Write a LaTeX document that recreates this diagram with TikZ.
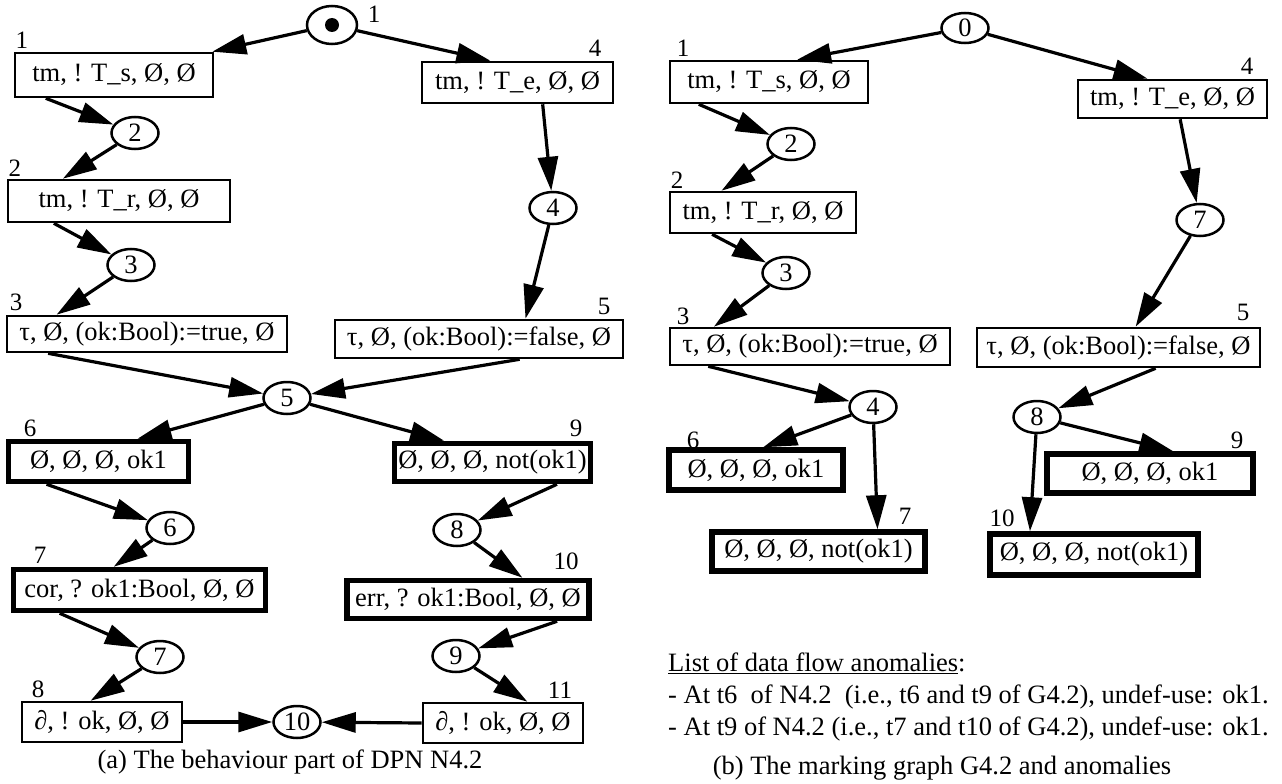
\documentclass[tikz,border=0pt]{standalone}
\usepackage{fontspec}
\setmainfont{Liberation Serif}
\usetikzlibrary{arrows.meta,calc,shapes.geometric}
\begin{document}
\begin{tikzpicture}[x=1pt,y=-1pt,
  every node/.style={font=\fontsize{26.5}{30}\selectfont},
  trans/.style={draw,line width=2.6pt,inner sep=0pt,rectangle},
  heavy/.style={trans,line width=5.5pt},
  place/.style={draw,ellipse,line width=2.5pt,inner sep=0pt,minimum width=47pt,minimum height=32pt},
  num/.style={inner sep=0pt,font=\fontsize{25}{28}\selectfont},
  txt/.style={inner sep=0pt,anchor=west},
  arc/.style={line width=3.2pt,-{Triangle[length=34pt,width=20pt]}},
]
\useasboundingbox (0,0) rectangle (1282,784);

% ---------------- (a) behaviour part of DPN N4.2 ----------------
\node[place,minimum width=50pt,minimum height=38pt] (p1) at (332,25) {};
\node[circle,fill,inner sep=0pt,minimum size=14pt] (tok) at (p1) {};
\node[num] (np1) at (374,14) {1};

\node[trans,minimum width=198pt,minimum height=44pt] (t1) at (114,75) {tm, ! T\_s, Ø, Ø};
\node[num] (nt1) at (22,40) {1};
\node[trans,minimum width=191pt,minimum height=41pt] (t4) at (517.5,82.5) {tm, ! T\_e, Ø, Ø};
\node[num] (nt4) at (595,48) {4};

\node[place] (p2) at (135,133) {2};
\node[trans,minimum width=222pt,minimum height=42pt] (t2) at (119,201) {tm, ! T\_r, Ø, Ø};
\node[num] (nt2) at (15,168) {2};
\node[place] (p4) at (553,208) {4};

\node[place] (p3) at (131,265) {3};
\node[trans,minimum width=280pt,minimum height=36pt] (t3) at (147,334) {τ, Ø, (ok:Bool):=true, Ø};
\node[num] (nt3) at (16,302) {3};
\node[trans,minimum width=288pt,minimum height=38pt] (t5) at (479,339) {τ, Ø, (ok:Bool):=false, Ø};
\node[num] (nt5) at (604,306) {5};

\node[place] (p5) at (287,398) {5};

\node[heavy,minimum width=180pt,minimum height=40pt] (t6) at (98.5,461.5) {Ø, Ø, Ø, ok1};
\node[num] (nt6) at (30,428) {6};
\node[heavy,minimum width=196pt,minimum height=38pt] (t9) at (492.5,462.5) {Ø, Ø, Ø, not(ok1)};
\node[num] (nt9) at (576,428) {9};

\node[place] (p6) at (170,528) {6};
\node[place] (p8) at (457,530) {8};

\node[heavy,minimum width=252pt,minimum height=41pt] (t7) at (139.5,590) {cor, ? ok1:Bool, Ø, Ø};
\node[num] (nt7) at (40,555) {7};
\node[heavy,minimum width=242pt,minimum height=38pt] (t10) at (468,599.5) {err, ? ok1:Bool, Ø, Ø};
\node[num] (nt10) at (566,561) {10};

\node[place] (p7) at (160,657) {7};
\node[place] (p9) at (456,656) {9};

\node[trans,minimum width=160pt,minimum height=40pt] (t8) at (102,722) {∂, ! ok, Ø, Ø};
\node[num] (nt8) at (38,689) {8};
\node[trans,minimum width=160pt,minimum height=40pt] (t11) at (503,723) {∂, ! ok, Ø, Ø};
\node[num] (nt11) at (560,690) {11};
\node[place] (p10) at (297,722) {10};

\node (capa) at (290,762) {(a) The behaviour part of DPN N4.2};

\draw[arc] (p1) -- ($(t1.north west)!.99!(t1.north east)$);
\draw[arc] (p1) -- ($(t4.north west)!.36!(t4.north east)$);
\draw[arc] ($(t1.south west)!.16!(t1.south east)$) -- (p2);
\draw[arc] (p2) -- ($(t2.north west)!.25!(t2.north east)$);
\draw[arc] ($(t2.south west)!.21!(t2.south east)$) -- (p3);
\draw[arc] (p3) -- ($(t3.north west)!.18!(t3.north east)$);
\draw[arc] ($(t4.south west)!.63!(t4.south east)$) -- (p4);
\draw[arc] (p4) -- ($(t5.north west)!.66!(t5.north east)$);
\draw[arc] ($(t3.south west)!.15!(t3.south east)$) -- (p5);
\draw[arc] ($(t5.south west)!.64!(t5.south east)$) -- (p5);
\draw[arc] (p5) -- ($(t6.north west)!.71!(t6.north east)$);
\draw[arc] (p5) -- ($(t9.north west)!.26!(t9.north east)$);
\draw[arc] ($(t6.south west)!.22!(t6.south east)$) -- (p6);
\draw[arc] ($(t9.south west)!.82!(t9.south east)$) -- (p8);
\draw[arc] (p6) -- ($(t7.north west)!.4!(t7.north east)$);
\draw[arc] (p8) -- ($(t10.north west)!.72!(t10.north east)$);
\draw[arc] ($(t7.south west)!.19!(t7.south east)$) -- (p7);
\draw[arc] ($(t10.south west)!.86!(t10.south east)$) -- (p9);
\draw[arc] (p7) -- ($(t8.north west)!.43!(t8.north east)$);
\draw[arc] (p9) -- ($(t11.north west)!.65!(t11.north east)$);
\draw[arc] (t8.east) -- (p10);
\draw[arc] (t11.west) -- (p10);

% ---------------- (b) marking graph G4.2 ----------------
\node[place,minimum height=30pt] (p0) at (965,28) {0};

\node[trans,minimum width=198pt,minimum height=42pt] (r1) at (769,82) {tm, ! T\_s, Ø, Ø};
\node[num] (nr1) at (683,48) {1};
\node[trans,minimum width=189pt,minimum height=38pt] (r4) at (1172.5,99) {tm, ! T\_e, Ø, Ø};
\node[num] (nr4) at (1247,66) {4};

\node[place] (q2) at (791,144) {2};
\node[trans,minimum width=186pt,minimum height=41pt] (r2) at (763,212.5) {tm, ! T\_r, Ø, Ø};
\node[num] (nr2) at (677,180) {2};
\node[place] (q7) at (1200,220) {7};

\node[place] (q3) at (786,273) {3};
\node[trans,minimum width=280pt,minimum height=37pt] (r3) at (810,346.5) {τ, Ø, (ok:Bool):=true, Ø};
\node[num] (nr3) at (683,316) {3};
\node[trans,minimum width=283pt,minimum height=39pt] (r5) at (1118.5,347.5) {τ, Ø, (ok:Bool):=false, Ø};
\node[num] (nr5) at (1243,312) {5};

\node[place] (q4) at (873,407) {4};
\node[place] (q8) at (1037,417) {8};

\node[heavy,minimum width=174pt,minimum height=40pt] (r6) at (756,470) {Ø, Ø, Ø, ok1};
\node[num] (nr6) at (693,440) {6};
\node[heavy,minimum width=206pt,minimum height=39pt] (r9) at (1150,473.5) {Ø, Ø, Ø, ok1};
\node[num] (nr9) at (1237,440) {9};
\node[heavy,minimum width=213pt,minimum height=39pt] (r7) at (818.5,551.5) {Ø, Ø, Ø, not(ok1)};
\node[num] (nr7) at (905,516) {7};
\node[heavy,minimum width=208pt,minimum height=41pt] (r10) at (1094,554.5) {Ø, Ø, Ø, not(ok1)};
\node[num] (nr10) at (1002,518) {10};

\draw[arc] (p0) -- ($(r1.north west)!.64!(r1.north east)$);
\draw[arc] (p0) -- ($(r4.north west)!.37!(r4.north east)$);
\draw[arc] ($(r1.south west)!.15!(r1.south east)$) -- (q2);
\draw[arc] (q2) -- ($(r2.north west)!.28!(r2.north east)$);
\draw[arc] ($(r2.south west)!.23!(r2.south east)$) -- (q3);
\draw[arc] (q3) -- ($(r3.north west)!.16!(r3.north east)$);
\draw[arc] ($(r4.south west)!.54!(r4.south east)$) -- (q7);
\draw[arc] (q7) -- ($(r5.north west)!.56!(r5.north east)$);
\draw[arc] ($(r3.south west)!.14!(r3.south east)$) -- (q4);
\draw[arc] ($(r5.south west)!.63!(r5.south east)$) -- (q8);
\draw[arc] (q4) -- ($(r6.north west)!.54!(r6.north east)$);
\draw[arc] (q4) -- ($(r7.north west)!.77!(r7.north east)$);
\draw[arc] (q8) -- ($(r9.north west)!.61!(r9.north east)$);
\draw[arc] (q8) -- ($(r10.north west)!.2!(r10.north east)$);

% list of anomalies and caption
\node[txt] (lst) at (668,663) {\underline{List of data flow anomalies}:};
\node[txt] (an1) at (668,697) {- At t6\ \ of N4.2\ \ (i.e., t6 and t9 of G4.2), undef-use: ok1.};
\node[txt] (an2) at (668,729) {- At t9 of N4.2 (i.e., t7 and t10 of G4.2), undef-use: ok1.};
\node (capb) at (942,768) {(b) The marking graph G4.2 and anomalies};
\end{tikzpicture}
\end{document}
